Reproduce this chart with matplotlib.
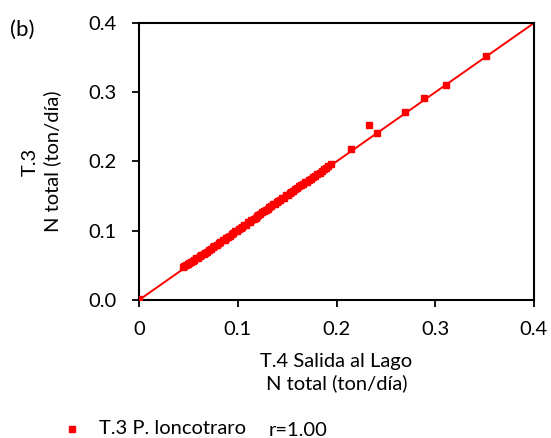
import matplotlib
matplotlib.use("Agg")
import matplotlib.pyplot as plt
from matplotlib.lines import Line2D

plt.rcParams['font.family'] = ['Lato', 'DejaVu Sans']

# Daily total nitrogen load at the two stations (ton/day)
n_t4_salida = [0.000,
               0.045, 0.046, 0.048, 0.050, 0.051, 0.053, 0.055, 0.056, 0.058, 0.060,
               0.062, 0.063, 0.066, 0.067, 0.069, 0.071, 0.073, 0.075, 0.076, 0.079,
               0.081, 0.082, 0.085, 0.087, 0.088, 0.090, 0.092, 0.094, 0.095, 0.097,
               0.099, 0.101, 0.103, 0.104, 0.106, 0.108, 0.110, 0.112, 0.113, 0.116,
               0.118, 0.119, 0.121, 0.123, 0.125, 0.127, 0.129, 0.131, 0.132, 0.134,
               0.136, 0.138, 0.140, 0.141, 0.143, 0.145, 0.147, 0.149, 0.151, 0.153,
               0.154, 0.156, 0.158, 0.160, 0.162, 0.164, 0.166, 0.168, 0.170, 0.172,
               0.174, 0.176, 0.178, 0.180, 0.183, 0.185, 0.187, 0.189, 0.191, 0.194,
               0.215, 0.233, 0.241, 0.269, 0.289, 0.311, 0.351]
n_t3_loncotraro = [0.002,
                   0.047, 0.049, 0.050, 0.052, 0.053, 0.055, 0.056, 0.058, 0.060, 0.061,
                   0.063, 0.065, 0.067, 0.068, 0.070, 0.072, 0.074, 0.076, 0.078, 0.080,
                   0.082, 0.084, 0.086, 0.087, 0.090, 0.091, 0.093, 0.095, 0.097, 0.099,
                   0.100, 0.103, 0.104, 0.106, 0.108, 0.109, 0.112, 0.113, 0.115, 0.117,
                   0.119, 0.121, 0.123, 0.124, 0.127, 0.128, 0.130, 0.132, 0.134, 0.136,
                   0.138, 0.139, 0.141, 0.143, 0.145, 0.147, 0.148, 0.151, 0.152, 0.155,
                   0.156, 0.158, 0.160, 0.162, 0.164, 0.166, 0.167, 0.170, 0.171, 0.174,
                   0.175, 0.178, 0.179, 0.182, 0.184, 0.186, 0.189, 0.190, 0.193, 0.197,
                   0.218, 0.252, 0.241, 0.271, 0.291, 0.311, 0.352]
fit_x = [0.0, 0.4]
fit_y = [0.0, 0.4]

xticks = [0, 0.1, 0.2, 0.3, 0.4]
xticklabels = ["0", "0.1", "0.2", "0.3", "0.4"]
yticks = [0.0, 0.1, 0.2, 0.3, 0.4]
yticklabels = ["0.0", "0.1", "0.2", "0.3", "0.4"]

RED = "#ff0000"
FS = 14.5

fig = plt.figure(figsize=(5.51, 4.38), dpi=100)
ax = fig.add_axes([139 / 551, (438 - 300) / 438, 395 / 551, 277 / 438])

ax.plot(fit_x, fit_y, color=RED, lw=1.4, zorder=2)
ax.plot(n_t4_salida, n_t3_loncotraro, ls="none", marker="s", ms=5,
        color=RED, mec=RED, zorder=3)

ax.set_xlim(0, 0.4)
ax.set_ylim(0, 0.4)
ax.set_xticks(xticks)
ax.set_xticklabels(xticklabels)
ax.set_yticks(yticks)
ax.set_yticklabels(yticklabels)
ax.tick_params(direction="out", length=5, width=1.3, labelsize=FS,
               colors="black")
ax.tick_params(axis="x", pad=10)
ax.tick_params(axis="y", pad=11)
for s in ax.spines.values():
    s.set_linewidth(1.5)
    s.set_color("black")

ax.set_xlabel("T.4 Salida al Lago\nN total (ton/día)", fontsize=FS,
              linespacing=1.3, labelpad=11)
ax.set_ylabel("T.3\nN total (ton/día)", fontsize=FS, linespacing=1.3,
              labelpad=20)

fig.text(10 / 551, 1 - 30 / 438, "(b)", fontsize=16, va="center", ha="left")

# Legend row below the axes
fig.add_artist(Line2D([72 / 551], [1 - 429 / 438], marker="s", ms=5,
                      color=RED, ls="none", transform=fig.transFigure))
fig.text(99 / 551, 1 - 428 / 438, "T.3 P. loncotraro", fontsize=FS,
         va="center", ha="left")
fig.text(269 / 551, 1 - 430 / 438, "r=1.00", fontsize=FS,
         va="center", ha="left")

fig.savefig("out.png", dpi=100)
